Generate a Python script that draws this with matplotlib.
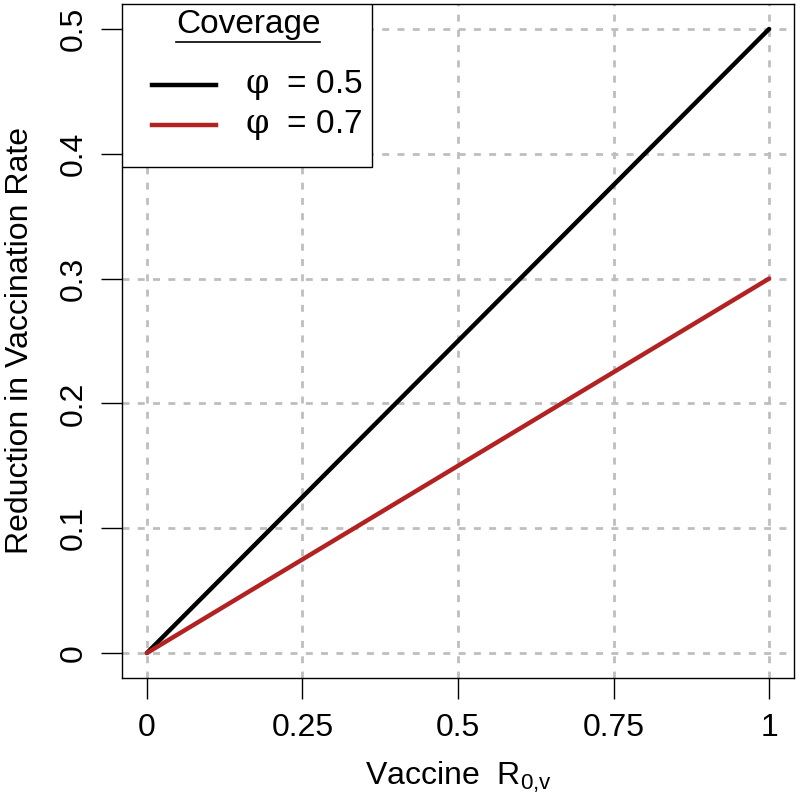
import matplotlib
matplotlib.use("Agg")
import matplotlib.pyplot as plt
from matplotlib.lines import Line2D
from matplotlib.patches import Rectangle

plt.rcParams['font.family'] = ['Liberation Sans', 'DejaVu Sans']
plt.rcParams['mathtext.fontset'] = 'dejavuserif'

# data
r0v = [0, 1]
reduction_phi05 = [0, 0.5]
reduction_phi07 = [0, 0.3]
xticks = [0, 0.25, 0.5, 0.75, 1]
xtick_labels = ["0", "0.25", "0.5", "0.75", "1"]
yticks = [0, 0.1, 0.2, 0.3, 0.4, 0.5]
ytick_labels = ["0", "0.1", "0.2", "0.3", "0.4", "0.5"]
legend_title = "Coverage"
legend_labels = [r"$\mathrm{\varphi}$  = 0.5", r"$\mathrm{\varphi}$  = 0.7"]
colors = ["black", "#B22222"]

fig = plt.figure(figsize=(8, 8.01), dpi=100)
ax = fig.add_axes([0.1525, 0.1536, 0.84, 0.8414])

ax.set_xlim(-0.04, 1.04)
ax.set_ylim(-0.02, 0.52)

# dashed grid like R's abline(lty=2)
for x in xticks:
    ax.axvline(x, color="#BEBEBE", lw=2, ls=(0, (2.5, 3)), zorder=1)
for y in yticks:
    ax.axhline(y, color="#BEBEBE", lw=2, ls=(0, (2.5, 3)), zorder=1)

ax.plot(r0v, reduction_phi05, color=colors[0], lw=3.2, zorder=3, solid_capstyle="round")
ax.plot(r0v, reduction_phi07, color=colors[1], lw=3.2, zorder=3, solid_capstyle="round")

ax.set_xticks(xticks)
ax.set_xticklabels(xtick_labels)
ax.set_yticks(yticks)
ax.set_yticklabels(ytick_labels, rotation=90, va="center")
ax.tick_params(axis="both", labelsize=23, length=15, width=1, direction="out")
ax.tick_params(axis="x", pad=10)
ax.tick_params(axis="y", pad=9)
for s in ax.spines.values():
    s.set_linewidth(1)

ax.set_xlabel(r"Vaccine  R$_{\mathregular{0{,}v}}$", fontsize=23, labelpad=12)
ax.set_ylabel("Reduction in Vaccination Rate", fontsize=23, labelpad=17)

# legend box drawn by hand, R style (underlined title)
ax.add_patch(Rectangle((0, 0.758), 0.372, 0.242, transform=ax.transAxes,
                       facecolor="white", edgecolor="black", lw=1, zorder=5))
title = ax.text(0.1875, 0.969, legend_title, transform=ax.transAxes, fontsize=24,
                ha="center", va="center", zorder=6)
entry_y = [0.880, 0.820]
for lab, c, yy in zip(legend_labels, colors, entry_y):
    ax.add_line(Line2D([0.0446, 0.1399], [yy, yy], transform=ax.transAxes,
                       color=c, lw=3.2, zorder=6))
    ax.text(0.183, yy, lab, transform=ax.transAxes, fontsize=24,
            ha="left", va="center", zorder=6)

fig.canvas.draw()
tb = title.get_window_extent().transformed(ax.transAxes.inverted())
ax.add_line(Line2D([tb.x0, tb.x1], [0.943, 0.943], transform=ax.transAxes,
                   color="black", lw=1.2, zorder=6))

fig.savefig("out.png", dpi=100)
